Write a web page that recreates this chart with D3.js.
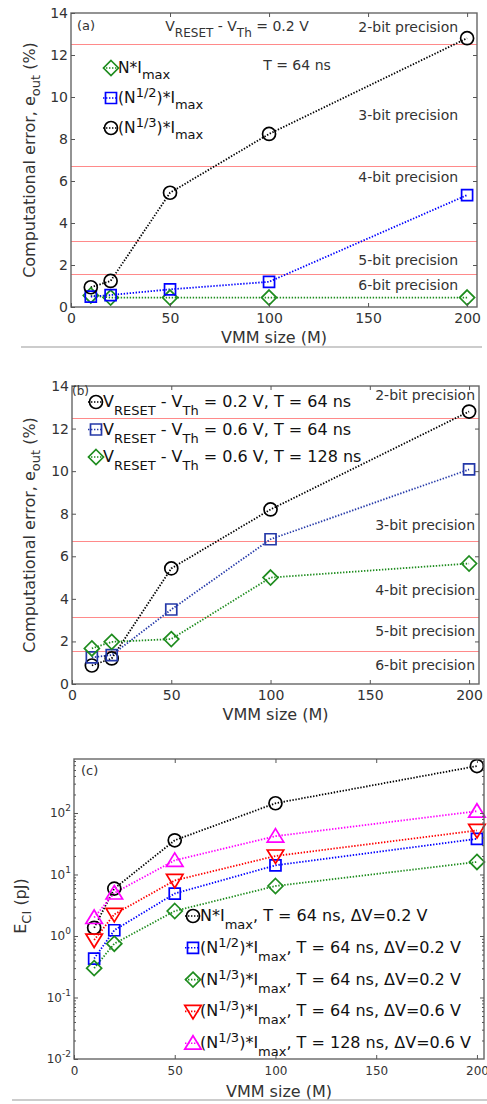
<!DOCTYPE html>
<html><head><meta charset="utf-8">
<script src="https://cdn.jsdelivr.net/npm/d3@7"></script>
<style>body{margin:0;background:#fff}svg{display:block}text{font-family:"DejaVu Sans",sans-serif}</style>
</head><body><svg id="chart" width="487" height="1104"></svg>
<script>
// ---------- data ----------
const vmmSize = [10, 20, 50, 100, 200];
// panel (a): computational error (%), V_RESET - V_Th = 0.2 V, T = 64 ns
const aNImax = [0.55, 0.45, 0.45, 0.45, 0.45];
const aSqrtNImax = [0.49, 0.57, 0.84, 1.2, 5.33];
const aCbrtNImax = [0.94, 1.24, 5.44, 8.24, 12.8];
// panel (b): computational error (%)
const bV02T64 = [0.87, 1.2, 5.43, 8.2, 12.8];
const bV06T64 = [1.25, 1.36, 3.5, 6.8, 10.08];
const bV06T128 = [1.67, 1.98, 2.11, 5.0, 5.66];
// panel (c): E_CI (pJ)
const cNImax = [1.36, 5.9, 36, 144, 580];
const cSqrtT64V02 = [0.43, 1.24, 4.9, 14.1, 38];
const cCbrtT64V02 = [0.30, 0.75, 2.55, 6.5, 16];
const cCbrtT64V06 = [0.86, 2.25, 8.0, 20, 52];
const cCbrtT128V06 = [2.0, 5.0, 17, 42, 107];
// precision thresholds (%)
const precisionLimits = [12.5, 6.7, 3.15, 1.55];
const precisionLabels = ["2-bit precision", "3-bit precision", "4-bit precision", "5-bit precision", "6-bit precision"];
// ticks
const xTicks = [0, 50, 100, 150, 200];
const linTicks = [0, 2, 4, 6, 8, 10, 12, 14];
const logTicks = [0.01, 0.1, 1, 10, 100];

// ---------- helpers ----------
const svg = d3.select("#chart");
const TXT = "#333";

function rich(sel, parts, size, small, dSub, dSup) {
  let cur = 0;
  parts.forEach(p => {
    const k = p[1] || "";
    const target = k === "sub" ? dSub : k === "sup" ? -dSup : 0;
    sel.append("tspan").attr("dy", target - cur).attr("font-size", k ? small : size).text(p[0]);
    cur = target;
  });
  return sel;
}

function markerPath(shape, s) {
  switch (shape) {
    case "circle": return d3.symbol(d3.symbolCircle, Math.PI * s * s)();
    case "square": return `M${-s},${-s}h${2*s}v${2*s}h${-2*s}Z`;
    case "diamond": return `M0,${-s}L${s},0L0,${s}L${-s},0Z`;
    case "triUp": return `M0,${-s}L${s*1.1},${s*0.8}L${-s*1.1},${s*0.8}Z`;
    case "triDown": return `M0,${s}L${s*1.1},${-s*0.8}L${-s*1.1},${-s*0.8}Z`;
  }
}
const markerSize = {circle: 6.5, square: 5.5, diamond: 7.5, triUp: 7.5, triDown: 7.5};

function styleAxis(g, fs) {
  g.select(".domain").remove();
  g.selectAll(".tick line").attr("stroke", "#555").attr("stroke-width", 1);
  g.selectAll(".tick text").attr("fill", TXT).attr("font-size", fs).attr("font-family", "DejaVu Sans");
}

function panel(cfg) {
  const g = svg.append("g");
  const x = d3.scaleLinear().domain([0, cfg.xMax]).range([cfg.left, cfg.right]);
  const y = cfg.log
    ? d3.scaleLog().domain(cfg.yDomain).range([cfg.bottom, cfg.top])
    : d3.scaleLinear().domain(cfg.yDomain).range([cfg.bottom, cfg.top]);

  // precision lines
  if (cfg.precision) {
    g.selectAll(".prec").data(precisionLimits).join("line")
      .attr("x1", cfg.left).attr("x2", cfg.right)
      .attr("y1", d => Math.round(y(d)) + 0.5).attr("y2", d => Math.round(y(d)) + 0.5)
      .attr("stroke", "#ff8a8a").attr("stroke-width", 1.2);
    g.selectAll(".plab").data(precisionLabels).join("text")
      .attr("x", x(cfg.precLabelX)).attr("y", (d, i) => y(cfg.precLabelY[i]))
      .attr("dy", "0.36em").attr("text-anchor", "end")
      .attr("font-size", 14).attr("fill", TXT).text(d => d);
  }

  // series
  const line = d3.line().x((d, i) => x(vmmSize[i])).y(d => y(d));
  cfg.series.forEach(s => {
    g.append("path").datum(s.values).attr("d", line)
      .attr("fill", "none").attr("stroke", s.color).attr("stroke-width", 1.8)
      .attr("stroke-dasharray", "1.4,1.6");
  });
  cfg.series.forEach(s => {
    g.selectAll(null).data(s.values).join("path")
      .attr("transform", (d, i) => `translate(${x(vmmSize[i])},${y(d)})`)
      .attr("d", markerPath(s.shape, markerSize[s.shape]))
      .attr("fill", "none").attr("stroke", s.color).attr("stroke-width", 1.7);
  });

  // frame
  g.append("rect").attr("x", cfg.left).attr("y", cfg.top)
    .attr("width", cfg.right - cfg.left).attr("height", cfg.bottom - cfg.top)
    .attr("fill", "none").attr("stroke", "#666").attr("stroke-width", 1.4);

  // axes
  const fs = cfg.tickFont;
  g.append("g").attr("transform", `translate(0,${cfg.bottom})`)
    .call(d3.axisBottom(x).tickValues(xTicks).tickSizeInner(-4).tickSizeOuter(0).tickPadding(cfg.xPad))
    .call(a => styleAxis(a, fs));
  g.append("g").attr("transform", `translate(0,${cfg.top})`)
    .call(d3.axisTop(x).tickValues(xTicks.slice(1)).tickSizeInner(-4).tickSizeOuter(0).tickFormat(""))
    .call(a => styleAxis(a, fs));
  if (!cfg.log) {
    g.append("g").attr("transform", `translate(${cfg.left},0)`)
      .call(d3.axisLeft(y).tickValues(linTicks).tickSizeInner(-4).tickSizeOuter(0).tickPadding(3))
      .call(a => styleAxis(a, fs));
    g.append("g").attr("transform", `translate(${cfg.right},0)`)
      .call(d3.axisRight(y).tickValues(linTicks.slice(1, -1)).tickSizeInner(-4).tickSizeOuter(0).tickFormat(""))
      .call(a => styleAxis(a, fs));
  } else {
    const minor = [];
    logTicks.concat([1000]).forEach(b => { for (let k = 2; k <= 9; k++) { const v = b * k; if (v <= cfg.yDomain[1]) minor.push(v); } });
    const la = g.append("g").attr("transform", `translate(${cfg.left},0)`)
      .call(d3.axisLeft(y).tickValues(logTicks).tickSizeInner(-4).tickSizeOuter(0).tickPadding(3))
      .call(a => styleAxis(a, fs));
    la.selectAll(".tick text").each(function(d) {
      const t = d3.select(this); t.text(null);
      t.append("tspan").text("10");
      t.append("tspan").attr("dy", -6).attr("font-size", 9).text(Math.round(Math.log10(d)));
    });
    g.append("g").attr("transform", `translate(${cfg.left},0)`)
      .call(d3.axisLeft(y).tickValues(minor).tickSizeInner(-2).tickSizeOuter(0).tickFormat(""))
      .call(a => styleAxis(a, fs));
    g.append("g").attr("transform", `translate(${cfg.right},0)`)
      .call(d3.axisRight(y).tickValues(logTicks.slice(1)).tickSizeInner(-4).tickSizeOuter(0).tickFormat(""))
      .call(a => styleAxis(a, fs));
    g.append("g").attr("transform", `translate(${cfg.right},0)`)
      .call(d3.axisRight(y).tickValues(minor).tickSizeInner(-2).tickSizeOuter(0).tickFormat(""))
      .call(a => styleAxis(a, fs));
  }

  // axis labels
  g.append("text").attr("x", (cfg.left + cfg.right) / 2 + cfg.xLabelShift).attr("y", cfg.bottom + cfg.xLabelDy)
    .attr("text-anchor", "middle").attr("font-size", 16).attr("fill", TXT).text("VMM size (M)");
  const yl = g.append("text").attr("transform", `translate(${cfg.yLabelX},${cfg.yLabelY}) rotate(-90)`)
    .attr("text-anchor", "middle").attr("fill", TXT);
  rich(yl, cfg.yLabel, 16, 13, 5, 5);

  // panel tag
  g.append("text").attr("x", cfg.tag[1]).attr("y", cfg.tag[2]).attr("font-size", cfg.tag[3])
    .attr("fill", TXT).text(cfg.tag[0]);

  // legend
  cfg.legend.rows.forEach((r, i) => {
    const s = cfg.series[r.series];
    const cy = cfg.legend.y0 + i * cfg.legend.dy;
    g.append("line").attr("x1", cfg.legend.mx - 8).attr("x2", cfg.legend.mx + 6)
      .attr("y1", cy).attr("y2", cy).attr("stroke", s.color).attr("stroke-width", 1.6)
      .attr("stroke-dasharray", "1.4,1.6");
    g.append("path").attr("transform", `translate(${cfg.legend.mx},${cy})`)
      .attr("d", markerPath(s.shape, markerSize[s.shape]))
      .attr("fill", "none").attr("stroke", s.color).attr("stroke-width", 1.7);
    const t = g.append("text").attr("x", cfg.legend.tx).attr("y", cy + 5).attr("fill", "#111");
    rich(t, r.text, cfg.legend.fs, cfg.legend.small, cfg.legend.dSub, cfg.legend.dSup);
  });
  return {g, x, y};
}

const yLabelErr = [["Computational error, e"], ["out", "sub"], [" (%)"]];

// ---------- panel (a) ----------
const pa = panel({
  left: 71, right: 477, top: 13, bottom: 307, xMax: 205, yDomain: [0, 14], tickFont: 14, xPad: 6,
  precision: true, precLabelX: 195.5, precLabelY: [13.35, 9.15, 6.19, 2.26, 1.04],
  series: [
    {values: aNImax, color: "#1e8c1e", shape: "diamond"},
    {values: aSqrtNImax, color: "#0000ff", shape: "square"},
    {values: aCbrtNImax, color: "#000000", shape: "circle"}
  ],
  xLabelShift: 0, xLabelDy: 36, yLabelX: 35, yLabelY: 160, yLabel: yLabelErr,
  tag: ["(a)", 77, 30, 13],
  legend: {mx: 111, tx: 118, y0: 68, dy: 30, fs: 15.5, small: 13, dSub: 6, dSup: 6,
    rows: [
      {series: 0, text: [["N*I"], ["max", "sub"]]},
      {series: 1, text: [["(N"], ["1/2", "sup"], [")*I"], ["max", "sub"]]},
      {series: 2, text: [["(N"], ["1/3", "sup"], [")*I"], ["max", "sub"]]}
    ]}
});
rich(pa.g.append("text").attr("x", 237).attr("y", 31).attr("text-anchor", "middle").attr("fill", TXT),
  [["V"], ["RESET", "sub"], [" - V"], ["Th", "sub"], [" = 0.2 V"]], 14, 12, 6, 5);
pa.g.append("text").attr("x", 297).attr("y", 70).attr("text-anchor", "middle").attr("font-size", 14)
  .attr("fill", TXT).text("T = 64 ns");

// ---------- panel (b) ----------
panel({
  left: 72, right: 479, top: 386, bottom: 684, xMax: 205, yDomain: [0, 14], tickFont: 14, xPad: 6,
  precision: true, precLabelX: 203, precLabelY: [13.57, 7.47, 4.42, 2.49, 0.89],
  series: [
    {values: bV02T64, color: "#000000", shape: "circle"},
    {values: bV06T64, color: "#2438a8", shape: "square"},
    {values: bV06T128, color: "#1e8c1e", shape: "diamond"}
  ],
  xLabelShift: 0, xLabelDy: 36, yLabelX: 35, yLabelY: 535, yLabel: yLabelErr,
  tag: ["(b)", 72, 395, 12],
  legend: {mx: 96, tx: 103, y0: 402, dy: 27.5, fs: 16, small: 13, dSub: 8, dSup: 6,
    rows: [
      {series: 0, text: [["V"], ["RESET", "sub"], [" - V"], ["Th", "sub"], [" = 0.2 V, T = 64 ns"]]},
      {series: 1, text: [["V"], ["RESET", "sub"], [" - V"], ["Th", "sub"], [" = 0.6 V, T = 64 ns"]]},
      {series: 2, text: [["V"], ["RESET", "sub"], [" - V"], ["Th", "sub"], [" = 0.6 V, T = 128 ns"]]}
    ]}
});

// ---------- panel (c) ----------
panel({
  left: 74, right: 484, top: 759, bottom: 1059, xMax: 203.5, yDomain: [0.01, 755], log: true, tickFont: 12, xPad: 7,
  precision: false,
  series: [
    {values: cNImax, color: "#000000", shape: "circle"},
    {values: cSqrtT64V02, color: "#0000ff", shape: "square"},
    {values: cCbrtT64V02, color: "#1e8c1e", shape: "diamond"},
    {values: cCbrtT64V06, color: "#ff0000", shape: "triDown"},
    {values: cCbrtT128V06, color: "#ff00ff", shape: "triUp"}
  ],
  xLabelShift: 0, xLabelDy: 38, yLabelX: 26, yLabelY: 906, yLabel: [["E"], ["CI", "sub"], [" (pJ)"]],
  tag: ["(c)", 81, 775, 13],
  legend: {mx: 193, tx: 200, y0: 916, dy: 31.8, fs: 16, small: 13, dSub: 8, dSup: 6,
    rows: [
      {series: 0, text: [["N*I"], ["max", "sub"], [", T = 64 ns, \u0394V=0.2 V"]]},
      {series: 1, text: [["(N"], ["1/2", "sup"], [")*I"], ["max", "sub"], [", T = 64 ns, \u0394V=0.2 V"]]},
      {series: 2, text: [["(N"], ["1/3", "sup"], [")*I"], ["max", "sub"], [", T = 64 ns, \u0394V=0.2 V"]]},
      {series: 3, text: [["(N"], ["1/3", "sup"], [")*I"], ["max", "sub"], [", T = 64 ns, \u0394V=0.6 V"]]},
      {series: 4, text: [["(N"], ["1/3", "sup"], [")*I"], ["max", "sub"], [", T = 128 ns, \u0394V=0.6 V"]]}
    ]}
});

// separators
svg.append("line").attr("x1", 21).attr("x2", 482).attr("y1", 347).attr("y2", 347).attr("stroke", "#999").attr("stroke-width", 1.2);
svg.append("line").attr("x1", 12).attr("x2", 487).attr("y1", 1100).attr("y2", 1100).attr("stroke", "#999").attr("stroke-width", 1.2);
</script></body></html>
